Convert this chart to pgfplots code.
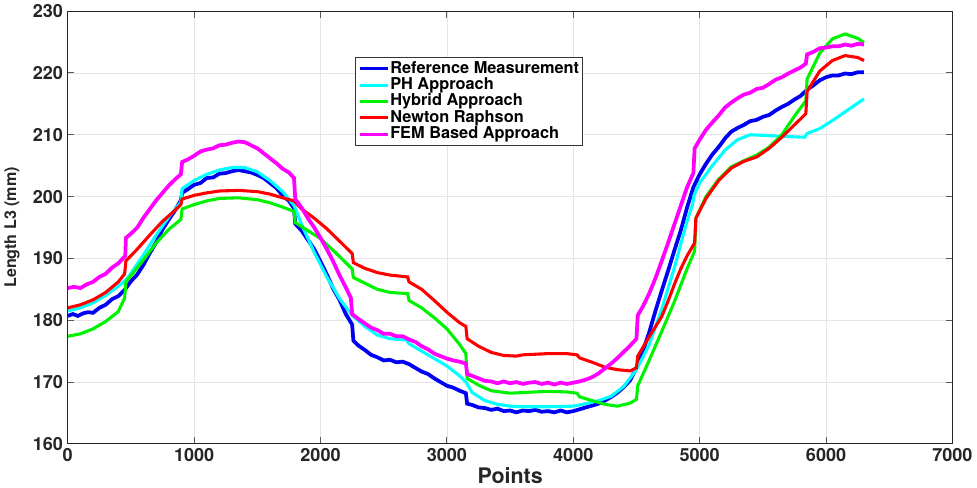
\documentclass[border=0pt]{standalone}
\usepackage{pgfplots}
\pgfplotsset{compat=1.18}
\usepackage{fontspec}
\setmainfont{TeX Gyre Heros}
\definecolor{mblue}{rgb}{0,0,0.95}
\definecolor{mcyan}{rgb}{0,1,1}
\definecolor{mgreen}{rgb}{0,0.95,0}
\definecolor{mred}{rgb}{1,0,0}
\definecolor{mmag}{rgb}{1,0,1}
\begin{document}
\begin{tikzpicture}
\begin{axis}[
  width=660.75pt, height=323.25pt, scale only axis,
  xmin=0, xmax=7000, ymin=160, ymax=230,
  xtick={0,1000,...,7000}, ytick={160,170,...,230},
  scaled x ticks=false,
  /pgf/number format/1000 sep={},
  /pgf/number format/assume math mode=true,
  grid=major, major grid style={black!10, line width=0.6pt},
  tick align=inside, major tick length=5pt,
  tick style={black!65, line width=0.8pt},
  axis line style={black!85, line width=0.6pt},
  ticklabel style={font=\fontsize{13.5}{15}\selectfont\bfseries, text=black!85},
  xlabel={Points}, ylabel={Length L3 (mm)},
  xlabel style={font=\fontsize{16}{18}\selectfont\bfseries, text=black!85, yshift=3pt},
  ylabel style={font=\fontsize{12}{14}\selectfont\bfseries, text=black!85, yshift=3pt},
  legend cell align=left,
  legend style={at={(0.3246,0.893)}, anchor=north west, draw=black!80, line width=0.5pt,
    font=\fontsize{12.2}{14}\selectfont\bfseries, inner sep=2.2pt, row sep=0pt,
    nodes={inner sep=0.4pt, text height=9.0pt, text depth=2.4pt}},
  legend image code/.code={\draw[#1, line width=2.2pt] (0cm,0cm) -- (0.75cm,0cm);},
]
% Reference Measurement
\addplot[mblue, line width=2.8pt] coordinates {
(0,180.7)(40,181.0)(80,180.7)(120,181.1)(160,181.3)(200,181.2)(250,182.0)(300,182.5)(350,183.4)(400,183.9)(450,184.9)(500,186.3)(550,187.4)(600,189.0)(650,190.9)(700,192.6)(750,194.7)(800,196.3)(850,197.8)(895,199.4)(905,200.6)(950,201.2)(1000,201.9)(1050,202.2)(1100,203.0)(1150,203.1)(1200,203.7)(1250,203.8)(1300,204.1)(1350,204.3)(1400,204.1)(1450,203.9)(1500,203.5)(1550,203.0)(1600,202.2)(1650,201.4)(1700,200.2)(1750,199.3)(1790,198.1)(1800,195.6)(1850,194.5)(1900,193.0)(1950,191.5)(2000,189.5)(2050,187.4)(2100,185.1)(2150,183.3)(2200,181.0)(2250,179.3)(2260,176.7)(2300,175.9)(2350,175.2)(2400,174.4)(2450,174.0)(2500,173.5)(2550,173.6)(2600,173.2)(2650,173.3)(2700,172.9)(2750,172.3)(2800,171.7)(2850,171.3)(2900,170.6)(2950,170.0)(3000,169.4)(3050,169.1)(3100,168.6)(3150,168.2)(3160,166.5)(3200,166.3)(3250,165.9)(3300,165.8)(3350,165.5)(3400,165.7)(3450,165.3)(3500,165.4)(3550,165.1)(3600,165.4)(3650,165.3)(3700,165.5)(3750,165.2)(3800,165.3)(3850,165.1)(3900,165.4)(3950,165.1)(4000,165.3)(4050,165.6)(4100,165.9)(4150,166.2)(4200,166.5)(4250,167.0)(4300,167.6)(4350,168.3)(4400,169.2)(4450,170.3)(4500,172.3)(4550,175.0)(4600,178.0)(4650,181.5)(4700,184.8)(4750,188.0)(4800,191.3)(4850,194.5)(4900,198.2)(4950,201.5)(5000,203.6)(5050,205.3)(5100,206.8)(5150,208.0)(5200,209.4)(5250,210.5)(5300,211.1)(5350,211.6)(5400,212.2)(5450,212.4)(5500,212.9)(5550,213.2)(5600,213.9)(5650,214.5)(5700,215.0)(5750,215.7)(5800,216.3)(5850,217.3)(5900,218.0)(5950,218.8)(6000,219.3)(6050,219.6)(6100,219.6)(6150,219.9)(6200,219.8)(6250,220.1)(6300,220.1)
};
\addlegendentry{Reference Measurement}
% PH Approach
\addplot[mcyan, line width=2.3pt] coordinates {
(0,181.5)(100,182.0)(200,182.8)(300,184.0)(400,185.5)(460,186.5)(500,187.6)(600,190.6)(700,193.8)(800,196.7)(895,199.1)(905,201.3)(1000,202.6)(1100,203.6)(1200,204.3)(1300,204.7)(1400,204.7)(1500,204.0)(1600,202.6)(1700,200.8)(1790,198.6)(1850,195.5)(1950,191.0)(2050,187.0)(2150,183.5)(2250,180.8)(2350,179.0)(2450,177.6)(2550,177.0)(2680,176.8)(2700,176.2)(2800,175.0)(2900,173.8)(3000,172.6)(3100,171.0)(3150,170.0)(3200,168.3)(3300,167.0)(3400,166.4)(3500,166.1)(3600,166.0)(3800,166.0)(4000,166.1)(4100,166.5)(4200,167.0)(4300,167.7)(4400,169.3)(4500,172.0)(4600,176.0)(4700,181.8)(4800,188.5)(4900,196.0)(4945,198.8)(4955,200.2)(5000,202.2)(5100,205.0)(5200,207.5)(5300,209.2)(5400,210.0)(5500,209.9)(5600,209.8)(5700,209.7)(5830,209.6)(5850,210.2)(5950,211.0)(6050,212.3)(6150,213.7)(6300,215.8)
};
\addlegendentry{PH Approach}
% Hybrid Approach
\addplot[mgreen, line width=2.3pt] coordinates {
(0,177.4)(100,177.8)(200,178.6)(300,179.8)(400,181.4)(450,183.6)(460,186.2)(500,187.2)(600,189.8)(700,192.5)(800,194.7)(895,196.3)(905,198.0)(1000,198.7)(1100,199.3)(1200,199.7)(1350,199.8)(1500,199.5)(1600,199.0)(1700,198.3)(1790,197.6)(1800,195.8)(1900,194.5)(2000,193.2)(2100,191.3)(2200,189.3)(2250,188.3)(2260,186.9)(2350,186.0)(2450,185.0)(2550,184.5)(2690,184.3)(2700,183.2)(2800,182.0)(2900,180.4)(3000,178.6)(3100,176.1)(3150,174.6)(3160,170.6)(3250,169.5)(3350,168.6)(3500,168.2)(3600,168.3)(3700,168.4)(3800,168.5)(3950,168.4)(4030,168.2)(4050,167.6)(4150,167.0)(4250,166.4)(4350,166.1)(4450,166.6)(4500,167.2)(4510,169.4)(4600,173.5)(4700,178.2)(4800,183.0)(4900,188.3)(4960,191.2)(4970,196.5)(5050,200.0)(5150,202.8)(5250,204.8)(5350,205.8)(5450,206.7)(5550,208.0)(5650,210.0)(5750,213.0)(5840,215.5)(5850,219.0)(5950,223.2)(6050,225.5)(6150,226.3)(6250,225.6)(6300,224.9)
};
\addlegendentry{Hybrid Approach}
% Newton Raphson
\addplot[mred, line width=2.3pt] coordinates {
(0,182.0)(100,182.5)(200,183.3)(300,184.5)(400,186.2)(450,187.5)(460,189.6)(550,191.5)(650,193.8)(750,196.0)(850,197.8)(895,198.7)(905,199.6)(1000,200.2)(1100,200.6)(1200,200.9)(1350,201.0)(1500,200.8)(1600,200.4)(1700,199.8)(1790,199.3)(1850,198.0)(1950,196.5)(2050,194.8)(2150,192.8)(2250,190.8)(2260,189.3)(2350,188.4)(2450,187.7)(2550,187.3)(2690,187.0)(2700,186.2)(2800,185.0)(2900,183.2)(3000,181.3)(3100,179.6)(3150,179.0)(3160,177.0)(3250,175.8)(3350,174.8)(3450,174.3)(3550,174.2)(3600,174.4)(3700,174.5)(3800,174.6)(3950,174.6)(4030,174.4)(4050,173.9)(4150,173.2)(4250,172.4)(4350,172.0)(4450,171.8)(4500,172.3)(4510,174.2)(4600,177.3)(4700,180.6)(4750,183.1)(4800,185.8)(4850,188.3)(4900,190.4)(4960,192.5)(4970,196.5)(5050,199.7)(5150,202.6)(5250,204.6)(5350,205.7)(5450,206.4)(5550,207.8)(5650,209.6)(5750,211.6)(5840,213.4)(5850,217.0)(5950,220.3)(6050,222.0)(6150,222.8)(6250,222.5)(6300,222.0)
};
\addlegendentry{Newton Raphson}
% FEM Based Approach
\addplot[mmag, line width=2.8pt] coordinates {
(0,185.2)(50,185.4)(100,185.2)(150,185.8)(200,186.2)(250,187.0)(300,187.5)(350,188.5)(400,189.2)(455,190.4)(460,193.3)(500,194.0)(550,195.0)(600,196.6)(650,198.0)(700,199.4)(750,200.6)(800,201.8)(850,202.8)(895,203.6)(905,205.6)(950,206.0)(1000,206.6)(1050,207.3)(1100,207.6)(1150,207.8)(1200,208.3)(1250,208.4)(1300,208.7)(1350,208.9)(1400,208.8)(1450,208.3)(1500,207.8)(1550,207.0)(1600,206.2)(1650,205.4)(1700,204.5)(1750,203.9)(1790,203.0)(1800,199.6)(1850,198.2)(1900,196.5)(1950,195.0)(2000,193.3)(2050,191.5)(2100,189.5)(2150,187.3)(2200,185.3)(2240,183.6)(2250,181.0)(2300,180.2)(2350,179.5)(2400,178.8)(2450,178.4)(2500,177.8)(2550,177.8)(2600,177.4)(2650,177.4)(2700,176.9)(2750,176.5)(2800,175.8)(2850,175.3)(2900,174.6)(2950,174.2)(3000,173.8)(3050,173.5)(3100,173.3)(3150,173.0)(3160,171.3)(3200,171.0)(3250,170.6)(3300,170.2)(3350,170.1)(3400,169.8)(3450,170.1)(3500,169.8)(3550,170.0)(3600,169.7)(3650,169.9)(3700,170.0)(3750,169.7)(3800,169.9)(3850,169.6)(3900,169.9)(3950,169.7)(4000,169.9)(4050,170.1)(4100,170.4)(4150,170.8)(4200,171.4)(4250,172.2)(4300,173.0)(4350,173.9)(4400,174.9)(4450,175.9)(4500,177.0)(4510,180.8)(4550,182.2)(4600,184.3)(4650,186.8)(4700,189.6)(4750,192.5)(4800,195.5)(4850,198.5)(4900,201.5)(4950,203.8)(4960,207.8)(5000,209.2)(5050,210.8)(5100,212.0)(5150,213.1)(5200,214.4)(5250,215.2)(5300,215.9)(5350,216.5)(5400,216.8)(5450,217.4)(5500,217.6)(5550,218.2)(5600,218.9)(5650,219.3)(5700,219.9)(5750,220.4)(5800,220.9)(5840,221.5)(5850,223.0)(5900,223.4)(5950,224.0)(6000,224.1)(6050,224.3)(6100,224.3)(6150,224.6)(6200,224.4)(6250,224.7)(6300,224.6)
};
\addlegendentry{FEM Based Approach}
\end{axis}
\end{tikzpicture}
\end{document}
